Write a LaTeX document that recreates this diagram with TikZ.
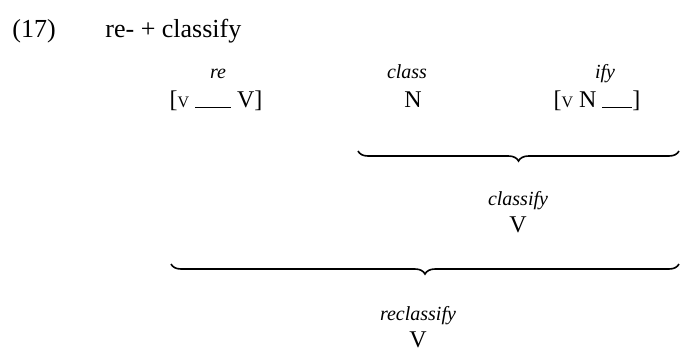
\documentclass[tikz,border=0pt]{standalone}
\usepackage{fontspec}
\setmainfont{Liberation Serif}
\usetikzlibrary{decorations.pathreplacing}

% petit V en indice de crochet, et le trou du gabarit
\newcommand{\petitv}{{\fontsize{8}{8}\selectfont V}}
\newcommand{\trou}[1]{\rule[-0.3pt]{#1}{0.5pt}}

\begin{document}
\begin{tikzpicture}[x=0.5pt, y=-0.5pt,
    titre/.style={font=\fontsize{13}{15}\selectfont, anchor=base west, inner sep=0pt},
    morph/.style={font=\fontsize{10}{12}\selectfont\itshape, anchor=base, inner sep=0pt},
    cat/.style={font=\fontsize{12}{14}\selectfont, anchor=base, inner sep=0pt},
    accolade/.style={decorate, decoration={brace, mirror, amplitude=5pt}, line width=0.8pt}]
    \useasboundingbox (0,0) rectangle (680,350);

    % Titre de l'exemple
    \node[titre] (num) at (12,37) {(17)};
    \node[titre] (titre) at (105,37) {re- + classify};

    % Les trois morphèmes
    \node[morph] (re) at (218,78) {re};
    \node[cat] (re-cat) at (216,107) {[\petitv\ \trou{18pt}\ V]};
    \node[morph] (class) at (407,78) {class};
    \node[cat] (class-cat) at (413,107) {N};
    \node[morph] (ify) at (605,78) {ify};
    \node[cat] (ify-cat) at (597,107) {[\petitv\ N \trou{15pt}]};

    % Accolades (différence de portée)
    \coordinate (haut-g) at (358,151);
    \coordinate (haut-d) at (679,151);
    \draw[accolade] (haut-g) -- (haut-d);
    \coordinate (bas-g) at (171,264);
    \coordinate (bas-d) at (679,264);
    \draw[accolade] (bas-g) -- (bas-d);

    % Résultats
    \node[morph] (classify) at (518,205) {classify};
    \node[cat] (classify-cat) at (518,232) {V};
    \node[morph] (reclassify) at (418,320) {reclassify};
    \node[cat] (reclassify-cat) at (418,347) {V};
\end{tikzpicture}
\end{document}
